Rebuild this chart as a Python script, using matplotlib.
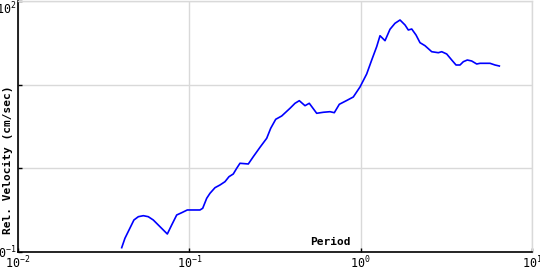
import numpy as np
import matplotlib
matplotlib.use("Agg")
import matplotlib.pyplot as plt

# ======================
# DATA
# ======================
period = [
    0.0403, 0.0421, 0.0475, 0.0504, 0.0539, 0.0576, 0.0616, 0.0744, 0.0789, 0.0844,
    0.0903, 0.0973, 0.1154, 0.1197, 0.1263, 0.1320, 0.1412, 0.1510, 0.1615, 0.1704,
    0.1805, 0.1890, 0.1975, 0.2209, 0.2362, 0.2585, 0.2829, 0.2985, 0.3193, 0.3460,
    0.3869, 0.4138, 0.4384, 0.4733, 0.5013, 0.5538, 0.6050, 0.6622, 0.7017, 0.7506,
    0.8290, 0.9058, 0.9910, 1.084, 1.160, 1.240, 1.297, 1.387, 1.483, 1.586,
    1.697, 1.815, 1.897, 1.986, 2.104, 2.220, 2.374, 2.598, 2.839, 2.972,
    3.178, 3.400, 3.602, 3.800, 3.973, 4.192, 4.447, 4.757, 4.972, 5.687,
    6.083, 6.446,
]
velocity = [
    0.1126, 0.1459, 0.2413, 0.2642, 0.2716, 0.2642, 0.2413, 0.1641, 0.2103, 0.2769,
    0.2950, 0.3178, 0.3178, 0.3330, 0.4384, 0.5030, 0.5870, 0.6323, 0.6924, 0.7946,
    0.8557, 1.001, 1.149, 1.127, 1.377, 1.784, 2.286, 3.009, 3.855, 4.222,
    5.219, 5.989, 6.434, 5.607, 5.989, 4.548, 4.676, 4.753, 4.624, 5.827,
    6.470, 7.124, 9.380, 13.41, 19.71, 28.43, 38.48, 33.54, 45.90, 54.13,
    59.29, 51.68, 45.02, 46.27, 39.23, 31.74, 29.23, 24.77, 24.10, 24.77,
    23.26, 19.71, 17.18, 17.18, 18.81, 19.71, 19.18, 17.66, 18.00, 18.00,
    17.18, 16.71,
]

x_ticks = [0.01, 0.1, 1, 10]
x_tick_labels = ["$10^{-2}$", "$10^{-1}$", "$10^{0}$", "$10^{1}$"]
y_ticks = [0.1, 1, 10, 100]
y_tick_labels = ["$10^{-1}$", "", "", "$10^{2}$"]

# ======================
# STYLE
# ======================
plt.rcParams["font.family"] = ["DejaVu Sans Mono", "DejaVu Sans"]
plt.rcParams["mathtext.fontset"] = "custom"
plt.rcParams["mathtext.rm"] = "DejaVu Sans Mono"
plt.rcParams["mathtext.it"] = "DejaVu Sans Mono"
plt.rcParams["mathtext.bf"] = "DejaVu Sans Mono:bold"

GRID = "#d9d9d9"

# ======================
# PLOT
# ======================
fig = plt.figure(figsize=(5.4, 2.7), dpi=100)
ax = fig.add_axes([0.0333, 0.0667, 0.9519, 0.9296])

ax.plot(period, velocity, color="#0000ff", lw=1.2)

ax.set_xscale("log")
ax.set_yscale("log")
ax.set_xlim(0.01, 10)
ax.set_ylim(0.1, 100)

ax.set_xticks(x_ticks)
ax.set_xticklabels(x_tick_labels)
ax.set_yticks(y_ticks)
ax.set_yticklabels(y_tick_labels)
ax.minorticks_off()

ax.grid(True, color=GRID, lw=1)
ax.set_axisbelow(True)

ax.tick_params(direction="in", length=3, width=1, labelsize=8.5, pad=2)
ax.tick_params(axis="y", pad=1)

for side in ["top", "right"]:
    ax.spines[side].set_color(GRID)
    ax.spines[side].set_linewidth(1)
for side in ["left", "bottom"]:
    ax.spines[side].set_linewidth(1.2)

# keep top y label inside the figure
ax.yaxis.get_major_ticks()[-1].label1.set_verticalalignment("top")

ax.text(0.608, 0.04, "Period", transform=ax.transAxes, ha="center",
        va="center", fontsize=8, fontweight="bold")
fig.text(0.0148, 0.407, "Rel. Velocity (cm/sec)", rotation=90, ha="center",
         va="center", fontsize=8, fontweight="bold")

fig.savefig("out.png", dpi=100)
